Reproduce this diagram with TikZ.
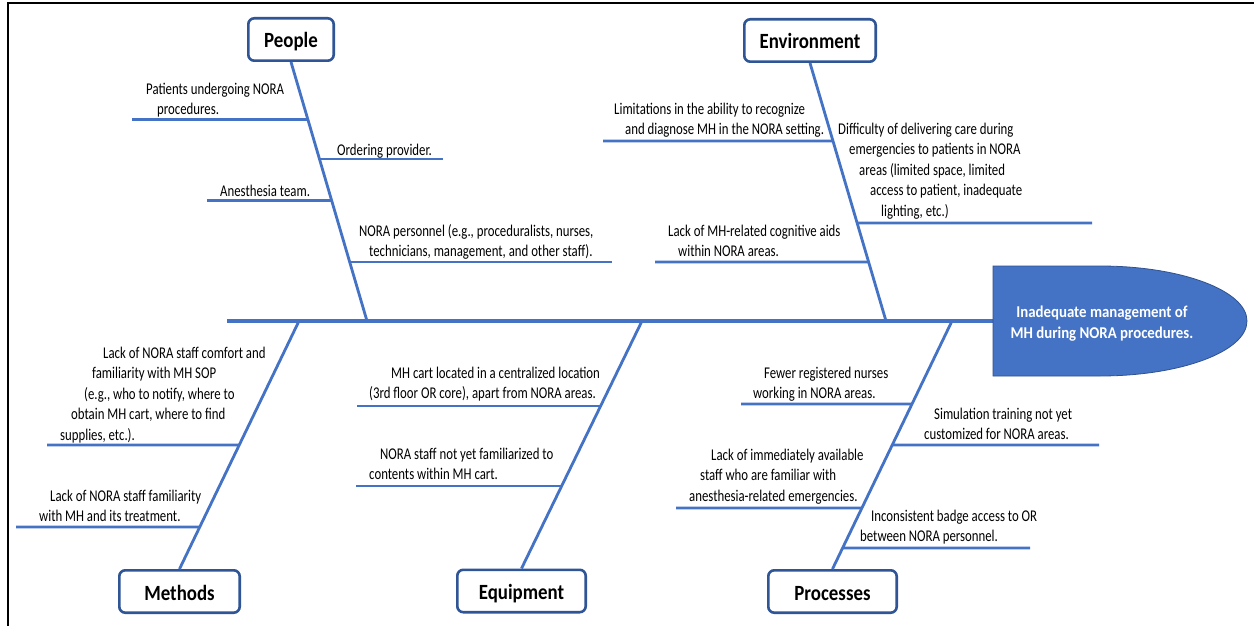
\documentclass[tikz,border=0pt]{standalone}
\usepackage{fontspec}
\newfontfamily\lblfam{Carlito}[FakeStretch=0.78]
\newfontfamily\ttlfam{Carlito}[FakeStretch=0.87]
\newfontfamily\headfam{Carlito}[FakeStretch=0.9]
\definecolor{bone}{HTML}{4472C4}
\definecolor{boxedge}{HTML}{2F5597}
\definecolor{headedge}{HTML}{2F528F}
\newcommand\lbline[2]{\hspace*{#1pt}\strut #2}
\tikzset{
  rib/.style={draw=bone, line width=2.8pt},
  bonel/.style={draw=bone, line width=2.8pt},
  spinel/.style={draw=bone, line width=4.5pt},
  cat/.style={draw=boxedge, line width=2.6pt, rounded corners=6pt, fill=white,
    font=\ttlfam\fontsize{21.7}{26}\selectfont\bfseries, inner sep=0pt, minimum height=42.4pt,
    text height=20pt, text depth=3pt},
  lbl/.style={anchor=north west, inner sep=0pt, align=left,
    font=\lblfam\fontsize{16.4}{20.5}\selectfont, yshift=14.35pt},
  headtxt/.style={anchor=north, inner sep=0pt, align=center, text=white,
    font=\headfam\fontsize{16.5}{21}\selectfont\bfseries, yshift=14.7pt},
}
\begin{document}
\begin{tikzpicture}[x=1pt,y=-1pt]
\useasboundingbox (0,0) rectangle (1254,626);
\fill[white] (0,0) rectangle (1254,626);
\draw[black, line width=1.4pt] (8,626) -- (8,3) -- (1254,3);

% category boxes
\node[cat, minimum width=85.4pt]  (P) at (291,39.5)  {People};
\node[cat, minimum width=131.4pt] (E) at (810,40.5)  {Environment};
\node[cat, minimum width=120.4pt] (M) at (179.5,591.5) {Methods};
\node[cat, minimum width=128.4pt] (Q) at (521.5,591) {Equipment};
\node[cat, minimum width=128.4pt] (R) at (832.5,591.5) {Processes};

% spine and junctions
\coordinate (spineL) at (227,321);
\coordinate (headL) at (993,321);
\coordinate (pJ) at (367,321);
\coordinate (eJ) at (886,321);
\coordinate (mJ) at (299,321);
\coordinate (qJ) at (642,321);
\coordinate (rJ) at (952,321);
\draw[spinel] (spineL) -- (headL);
\draw[bonel] (P.south) -- (pJ);
\draw[bonel] (E.south) -- (eJ);
\draw[bonel] (mJ) -- (M.north);
\draw[bonel] (qJ) -- (Q.north);
\draw[bonel] (rJ) -- (R.north);

% head
\fill[bone, draw=headedge, line width=0.8pt] (993,266) -- (1100,266)
  arc[start angle=90, end angle=-90, x radius=147pt, y radius=55pt] -- (993,376) -- cycle;
\node[headtxt] (head) at (1102,317) {\strut Inadequate management of\\\strut MH during NORA procedures.};

% ribs: People
\coordinate (pr1) at (132,119.5);
\coordinate (pr2) at (443,159);
\coordinate (pr3) at (207,200.7);
\coordinate (pr4) at (612,262);
\draw[rib] (intersection of P.south--pJ and 0,119.5--1,119.5) -- (pr1);
\draw[rib] (intersection of P.south--pJ and 0,159--1,159) -- (pr2);
\draw[rib] (intersection of P.south--pJ and 0,200.7--1,200.7) -- (pr3);
\draw[rib] (intersection of P.south--pJ and 0,262--1,262) -- (pr4);
% ribs: Environment
\coordinate (er1) at (603,141);
\coordinate (er2) at (1092,223);
\coordinate (er3) at (655,262);
\draw[rib] (intersection of E.south--eJ and 0,141--1,141) -- (er1);
\draw[rib] (intersection of E.south--eJ and 0,223--1,223) -- (er2);
\draw[rib] (intersection of E.south--eJ and 0,262--1,262) -- (er3);
% ribs: Methods
\coordinate (mr1) at (47,445);
\coordinate (mr2) at (16,527);
\draw[rib] (intersection of mJ--M.north and 0,445--1,445) -- (mr1);
\draw[rib] (intersection of mJ--M.north and 0,527--1,527) -- (mr2);
% ribs: Equipment
\coordinate (qr1) at (357,406);
\coordinate (qr2) at (356,486);
\draw[rib] (intersection of qJ--Q.north and 0,406--1,406) -- (qr1);
\draw[rib] (intersection of qJ--Q.north and 0,486--1,486) -- (qr2);
% ribs: Processes
\coordinate (rr1) at (741,404);
\coordinate (rr2) at (1099,445);
\coordinate (rr3) at (676,508);
\coordinate (rr4) at (1030,548);
\draw[rib] (intersection of rJ--R.north and 0,404--1,404) -- (rr1);
\draw[rib] (intersection of rJ--R.north and 0,445--1,445) -- (rr2);
\draw[rib] (intersection of rJ--R.north and 0,508--1,508) -- (rr3);
\draw[rib] (intersection of rJ--R.north and 0,548--1,548) -- (rr4);

% labels
\node[lbl] (lP1) at (146,94) {\lbline{0}{Patients undergoing NORA}\\\lbline{11}{procedures.}};
\node[lbl] (lP2) at (337,155) {\lbline{0}{Ordering provider.}};
\node[lbl] (lP3) at (220,196) {\lbline{0}{Anesthesia team.}};
\node[lbl] (lP4) at (359,236) {\lbline{0}{NORA personnel (e.g., proceduralists, nurses,}\\\lbline{10}{technicians, management, and other staff).}};
\node[lbl] (lE1) at (614,114) {\lbline{0}{Limitations in the ability to recognize}\\\lbline{11}{and diagnose MH in the NORA setting.}};
\node[lbl] (lE2) at (838,134) {\lbline{0}{Difficulty of delivering care during}\\\lbline{11}{emergencies to patients in NORA}\\\lbline{21}{areas (limited space, limited}\\\lbline{32}{access to patient, inadequate}\\\lbline{43}{lighting, etc.)}};
\node[lbl] (lE3) at (668,236) {\lbline{0}{Lack of MH-related cognitive aids}\\\lbline{10}{within NORA areas.}};
\node[lbl] (lM1) at (60,358) {\lbline{43}{Lack of NORA staff comfort and}\\\lbline{32}{familiarity with MH SOP}\\\lbline{24}{(e.g., who to notify, where to}\\\lbline{11}{obtain MH cart, where to find}\\\lbline{0}{supplies, etc.).}};
\node[lbl] (lM2) at (39,501) {\lbline{11}{Lack of NORA staff familiarity}\\\lbline{0}{with MH and its treatment.}};
\node[lbl] (lQ1) at (369,378) {\lbline{22}{MH cart located in a centralized location}\\\lbline{0}{(3rd floor OR core), apart from NORA areas.}};
\node[lbl] (lQ2) at (369,459) {\lbline{11}{NORA staff not yet familiarized to}\\\lbline{0}{contents within MH cart.}};
\node[lbl] (lR1) at (753,378) {\lbline{11}{Fewer registered nurses}\\\lbline{0}{working in NORA areas.}};
\node[lbl] (lR2) at (924,419) {\lbline{10}{Simulation training not yet}\\\lbline{0}{customized for NORA areas.}};
\node[lbl] (lR3) at (689,460) {\lbline{22}{Lack of immediately available}\\\lbline{11}{staff who are familiar with}\\\lbline{0}{anesthesia-related emergencies.}};
\node[lbl] (lR4) at (860,521) {\lbline{11}{Inconsistent badge access to OR}\\\lbline{0}{between NORA personnel.}};
\end{tikzpicture}
\end{document}
